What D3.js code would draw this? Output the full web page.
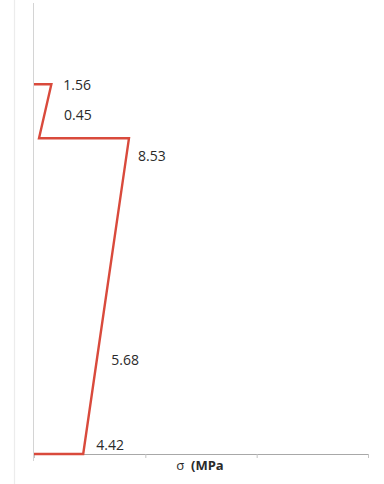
<!DOCTYPE html>
<html>
<head>
<meta charset="utf-8">
<script src="https://cdn.jsdelivr.net/npm/d3@7"></script>
<style>
  html, body { margin: 0; padding: 0; background: #ffffff; }
  svg { display: block; }
</style>
</head>
<body>
<svg id="chart" width="384" height="484"></svg>
<script>
// Stress profile through the section: stress value (MPa) vs. height (mm from bottom)
const stress = [0, 4.42, 5.68, 8.53, 0.45, 1.56, 0];
const height = [0, 0, 21.5, 70, 70, 82, 82];
// Which profile points carry a value label
const labelIndex = [1, 2, 3, 4, 5];
const xTicks = [0, 10, 20, 30];
const xTitle = "(MPa";
const xSymbol = "σ";

const svg = d3.select("#chart");
const x = d3.scaleLinear().domain([0, 30]).range([34, 368]);
const y = d3.scaleLinear().domain([0, 100]).range([454, 3]);

// faint page frame line at the left
svg.append("line")
  .attr("x1", 14.5).attr("x2", 14.5).attr("y1", 0).attr("y2", 484)
  .attr("stroke", "#ececec").attr("stroke-width", 1.2);

// vertical axis line
svg.append("line")
  .attr("x1", 33.5).attr("x2", 33.5).attr("y1", 3).attr("y2", 461)
  .attr("stroke", "#d4d4d4").attr("stroke-width", 1);

// horizontal axis with small outside ticks, no tick labels
const xAxis = d3.axisBottom(x).tickValues(xTicks).tickSize(4).tickSizeOuter(0).tickFormat("");
const gx = svg.append("g").attr("transform", `translate(0,${y(0)})`).call(xAxis);
gx.select(".domain").attr("stroke", "#a8a8a8").attr("stroke-width", 1.2);
gx.selectAll(".tick line").attr("stroke", "#c4c4c4");

// axis title
const title = svg.append("text")
  .attr("x", 200).attr("y", 470)
  .attr("text-anchor", "middle")
  .attr("font-family", "'Open Sans', sans-serif")
  .attr("font-size", 13)
  .attr("fill", "#2a2a2a")
  .attr("xml:space", "preserve")
  .style("white-space", "pre");
title.append("tspan").text(xSymbol + "  ");
title.append("tspan").attr("font-weight", "bold").text(xTitle);

// profile line
const pts = stress.map((s, i) => [s, height[i]]);
const line = d3.line().x(d => x(d[0])).y(d => y(d[1]));
svg.append("path")
  .attr("d", line(pts))
  .attr("fill", "none")
  .attr("stroke", "#d94a3c")
  .attr("stroke-width", 2.4)
  .attr("stroke-linejoin", "miter");

// value labels, offset from their points
const offsets = {1: [13, -4], 2: [14, 8], 3: [9, 23], 4: [25, -18], 5: [12, 6]};
svg.selectAll("text.val")
  .data(labelIndex)
  .join("text")
  .attr("class", "val")
  .attr("x", i => x(stress[i]) + offsets[i][0])
  .attr("y", i => y(height[i]) + offsets[i][1])
  .attr("font-family", "'Open Sans', sans-serif")
  .attr("font-size", 14)
  .attr("fill", "#2a2a2a")
  .text(i => stress[i].toFixed(2));
</script>
</body>
</html>
